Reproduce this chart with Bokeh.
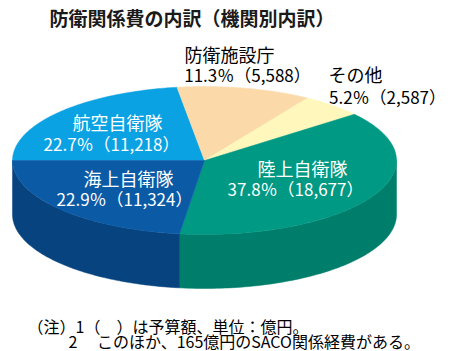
import numpy as np
from bokeh.plotting import figure
from bokeh.models import Range1d
from bokeh.core.properties import value
from bokeh.embed import file_html
from bokeh.resources import INLINE

# ---- data ----
names = ["航空自衛隊", "防衛施設庁", "その他", "陸上自衛隊", "海上自衛隊"]
amounts = [11218, 5588, 2587, 18677, 11324]
percents = [22.7, 11.3, 5.2, 37.8, 22.9]
title = "防衛関係費の内訳（機関別内訳）"
notes = ["（注）1（　）は予算額、単位：億円。", "2　 このほか、165億円のSACO関係経費がある。"]

# ---- style ----
top_colors = ["#0AA2E2", "#FCD9A9", "#FFF7BC", "#009983", "#0A5AA6"]
side_colors = ["#0A82C0", "#D9B68A", "#DDD59A", "#007E6C", "#07437F"]
label_colors = ["white", "black", "black", "white", "white"]
# (name center x, name y, value center x, value y)
label_pos = [(117, 121, 111, 143), (229, 53, 247, 74), (355, 73, 387, 96),
             (302, 167, 295, 188), (128, 177, 124, 198)]
cx, cy, rx, ry, depth = 204, 160, 192, 74, 54
start_deg = 180.0
FONT = "Noto Sans CJK JP"

p = figure(width=450, height=351, x_range=Range1d(0, 450), y_range=Range1d(351, 0),
           output_backend="svg", toolbar_location=None, min_border=0)
p.axis.visible = False
p.grid.visible = False
p.outline_line_color = None
p.background_fill_color = "white"

vals = np.array(amounts, dtype=float)
ang = np.concatenate([[0], np.cumsum(vals / vals.sum() * 360.0)]) + start_deg

# side faces (front half: screen angles 0..180 modulo 360)
sx, sy, sc = [], [], []
for i in range(len(vals)):
    a0, a1 = ang[i], ang[i + 1]
    for k in range(-1, 3):
        lo, hi = max(a0, 360 * k), min(a1, 360 * k + 180)
        if hi - lo > 0.05:
            t = np.radians(np.linspace(lo, hi, 80))
            xs = cx + rx * np.cos(t)
            ys = cy + ry * np.sin(t)
            sx.append(list(xs) + list(xs[::-1]))
            sy.append(list(ys) + list(ys[::-1] + depth))
            sc.append(side_colors[i])
p.patches(sx, sy, fill_color=sc, line_color=sc, line_width=0.5)

# top faces
tx, ty = [], []
for i in range(len(vals)):
    t = np.radians(np.linspace(ang[i], ang[i + 1], 120))
    tx.append([cx] + list(cx + rx * np.cos(t)))
    ty.append([cy] + list(cy + ry * np.sin(t)))
p.patches(tx, ty, fill_color=top_colors, line_color=top_colors, line_width=0.5)

# labels
for i in range(len(vals)):
    x1, y1, x2, y2 = label_pos[i]
    p.text([x1], [y1], text=[names[i]], text_font=value(FONT), text_font_size="18px",
           text_color=label_colors[i], text_baseline="middle", text_align="center")
    p.text([x2], [y2], text=[f"{percents[i]}％（{amounts[i]:,}）"], text_font=value(FONT),
           text_font_size="17px", text_color=label_colors[i], text_baseline="middle",
           text_align="center")

p.text([49], [17], text=[title], text_font=value(FONT), text_font_size="19px",
       text_font_style="bold", text_color="#1a1a1a", text_baseline="middle", text_align="left")
p.text([27, 68], [325, 340], text=notes, text_font=value(FONT), text_font_size="16px",
       text_color="black", text_baseline="middle", text_align="left")

open("out.html", "w").write(file_html(p, INLINE))
